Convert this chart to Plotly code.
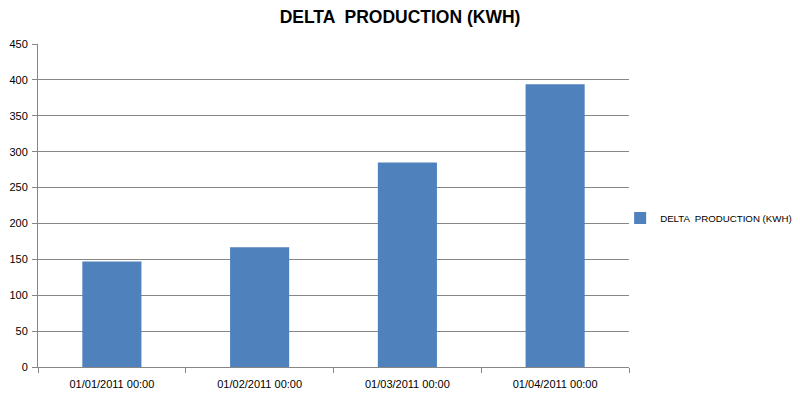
import plotly.graph_objects as go

categories = ["01/01/2011 00:00", "01/02/2011 00:00", "01/03/2011 00:00", "01/04/2011 00:00"]
values = [147, 167, 285, 394]
series_name = "DELTA  PRODUCTION (KWH)"
title_text = "DELTA  PRODUCTION (KWH)"
y_ticks = [0, 50, 100, 150, 200, 250, 300, 350, 400, 450]

fig = go.Figure()
fig.add_trace(go.Bar(
    x=categories, y=values, name=series_name,
    marker=dict(color="#4F81BD", line=dict(width=0)),
    showlegend=True,
))

fig.update_layout(
    width=792, height=390,
    margin=dict(l=30, r=171, t=36, b=31, autoexpand=False),
    paper_bgcolor="white", plot_bgcolor="white",
    bargap=0.6,
    font=dict(family="Liberation Sans, Arial, sans-serif", size=11, color="#000000"),
    title=dict(text="<b>" + title_text + "</b>", x=0.495, xanchor="center",
               y=0.978, yanchor="middle",
               font=dict(family="Liberation Sans, Arial, sans-serif", size=17.5, color="#000000")),
    legend=dict(x=0.985, xanchor="left", y=0.461, yanchor="middle",
                font=dict(size=9.7, color="#000000"), itemwidth=30,
                bgcolor="rgba(0,0,0,0)"),
)
fig.update_xaxes(
    type="category", showline=True, linecolor="#868686", linewidth=1,
    ticks="outside", tickson="boundaries", ticklen=5, tickcolor="#868686",
    showgrid=False, tickfont=dict(size=11), ticklabelstandoff=7,
)
fig.update_yaxes(
    range=[0, 450], tickvals=y_ticks, showline=True, linecolor="#868686", linewidth=1,
    ticks="outside", ticklen=5, tickcolor="#868686",
    showgrid=True, gridcolor="#868686", gridwidth=1, zeroline=False,
    tickfont=dict(size=11), ticklabelstandoff=2,
)

fig.write_html("out.html")
